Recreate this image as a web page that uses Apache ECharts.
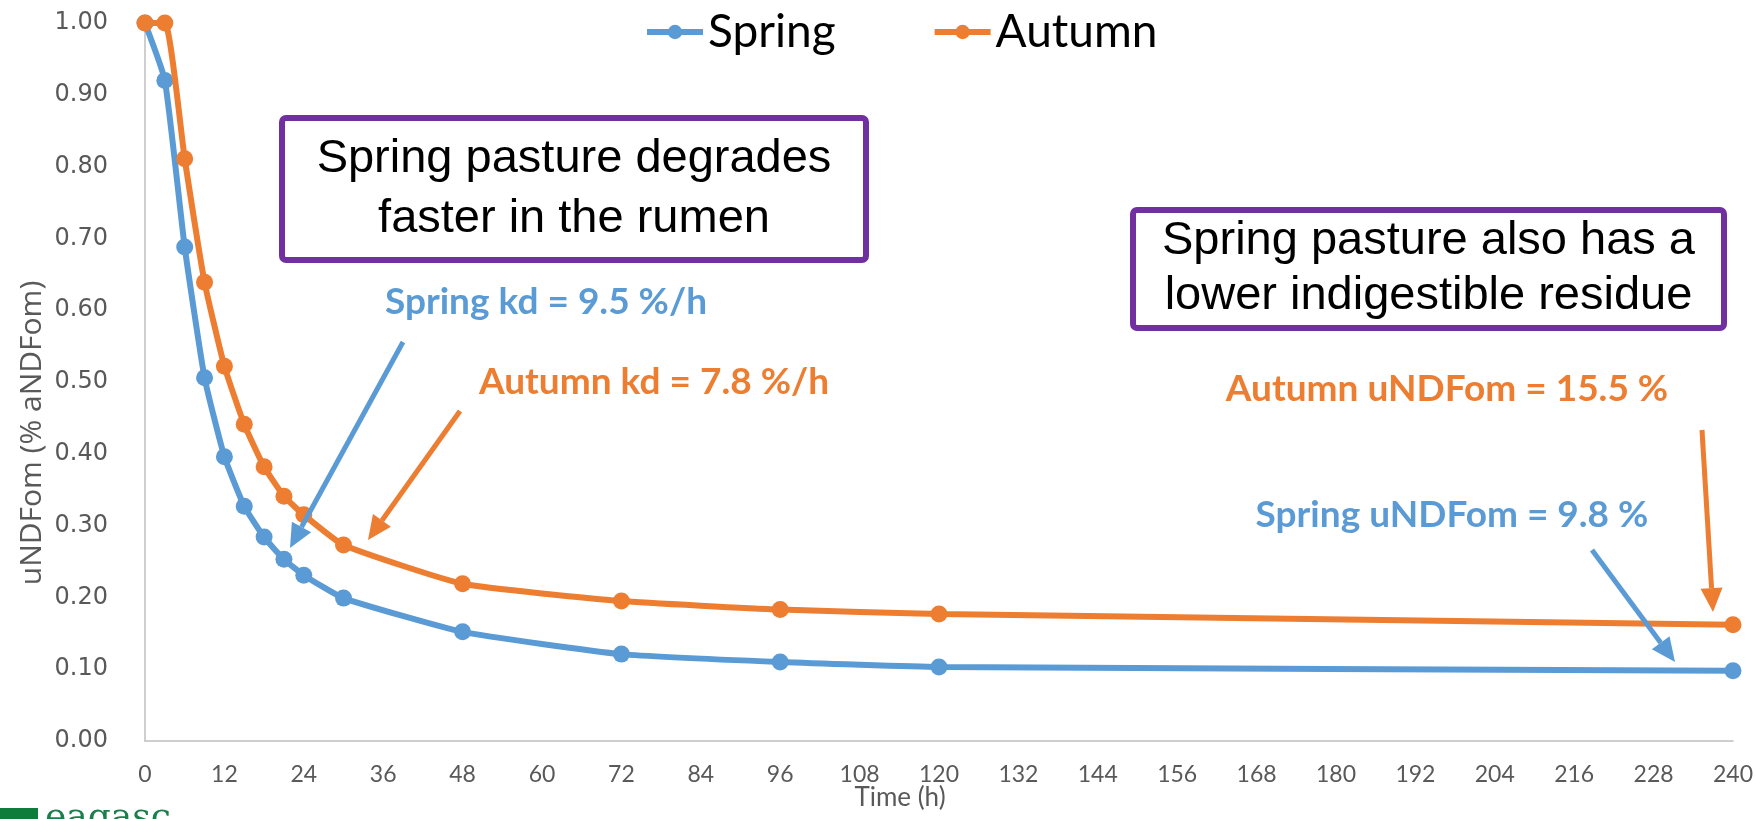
<!DOCTYPE html>
<html>
<head>
<meta charset="utf-8">
<script src="https://cdn.jsdelivr.net/npm/echarts@6/dist/echarts.min.js"></script>
<style>
  html, body { margin: 0; padding: 0; background: #fff; }
  #chart { width: 1756px; height: 819px; }
</style>
</head>
<body>
<div id="chart"></div>
<script>
// incubation times (h)
var hours = [0, 3, 6, 9, 12, 15, 18, 21, 24, 30, 48, 72, 96, 120, 240];
// uNDFom remaining (fraction of aNDFom)
var spring = [1.00, 0.92, 0.688, 0.506, 0.396, 0.327, 0.284, 0.253, 0.231, 0.199, 0.152, 0.121, 0.110, 0.103, 0.098];
var autumn = [1.00, 1.00, 0.811, 0.639, 0.522, 0.441, 0.382, 0.341, 0.315, 0.273, 0.219, 0.195, 0.183, 0.177, 0.162];
var seriesNames = ["Spring", "Autumn"];
var colors = ["#5B9BD5", "#ED7D31"];

function pairs(xs, ys) {
  var out = [];
  for (var i = 0; i < xs.length; i++) {
    out.push([xs[i], ys[i]]);
  }
  return out;
}

// arrow as line + triangular head
function arrow(x1, y1, x2, y2, color) {
  var ang = Math.atan2(y2 - y1, x2 - x1);
  var len = 24, half = 11;
  var bx = x2 - len * Math.cos(ang), by = y2 - len * Math.sin(ang);
  var px = -Math.sin(ang) * half, py = Math.cos(ang) * half;
  return [
    { type: "line", shape: { x1: x1, y1: y1, x2: bx, y2: by }, style: { stroke: color, lineWidth: 5 }, z: 50 },
    { type: "polygon", shape: { points: [[x2, y2], [bx + px, by + py], [bx - px, by - py]] }, style: { fill: color }, z: 50 }
  ];
}

function box(x, y, w, h, lines, lh) {
  return [
    { type: "rect", shape: { x: x, y: y, width: w, height: h, r: 4 },
      style: { fill: "#fff", stroke: "#7030A0", lineWidth: 6 }, z: 40 },
    { type: "text", x: x + w / 2, y: y + h / 2, z: 41,
      style: { text: lines.join("\n"), align: "center", verticalAlign: "middle",
               font: "47px 'Liberation Sans', Arial, sans-serif", lineHeight: lh, fill: "#000" } }
  ];
}

function label(x, y, text, color) {
  return { type: "text", x: x, y: y, z: 45,
    style: { text: text, align: "center", verticalAlign: "middle",
             font: "bold 37px Lato, sans-serif", fill: color } };
}

var chart = echarts.init(document.getElementById("chart"));

var graphics = []
  .concat(box(282, 118, 584, 142, ["Spring pasture degrades", "faster in the rumen"], 60))
  .concat(box(1133, 210, 591, 118, ["Spring pasture also has a", "lower indigestible residue"], 55))
  .concat(arrow(403, 342, 290, 548, colors[0]))
  .concat(arrow(460, 411, 368, 540, colors[1]))
  .concat(arrow(1702, 430, 1713, 612, colors[1]))
  .concat(arrow(1592, 550, 1675, 662, colors[0]));
graphics.push(label(546, 302, "Spring kd = 9.5 %/h", colors[0]));
graphics.push(label(654, 382, "Autumn kd = 7.8 %/h", colors[1]));
graphics.push(label(1447, 389, "Autumn uNDFom = 15.5 %", colors[1]));
graphics.push(label(1452, 515, "Spring uNDFom = 9.8 %", colors[0]));
// y axis title
graphics.push({ type: "text", x: 32, y: 433, rotation: Math.PI / 2,
  style: { text: "uNDFom (% aNDFom)", align: "center", verticalAlign: "middle",
           font: "30px 'Open Sans', sans-serif", fill: "#595959" } });
// x axis title
graphics.push({ type: "text", x: 900, y: 798,
  style: { text: "Time (h)", align: "center", verticalAlign: "middle",
           font: "26px Lato, sans-serif", fill: "#595959" } });
// logo, cut off at bottom edge
graphics.push({ type: "rect", shape: { x: 0, y: 808, width: 38, height: 14 }, style: { fill: "#0E7C3A" } });
graphics.push({ type: "text", x: 45, y: 801, style: { text: "eagasc", font: "36px 'DejaVu Serif', serif",
  fill: "#1A7F4B", verticalAlign: "top" } });

chart.setOption({
  animation: false,
  backgroundColor: "#fff",
  color: colors,
  legend: {
    data: seriesNames,
    left: 639,
    top: 4,
    itemWidth: 56,
    itemHeight: 18,
    itemGap: 96,
    lineStyle: { width: 6 },
    textStyle: { fontFamily: "Lato", fontSize: 46, color: "#000" }
  },
  grid: { left: 145, right: 21, top: 23, bottom: 78 },
  xAxis: {
    type: "value",
    min: 0,
    max: 240,
    interval: 12,
    axisLine: { lineStyle: { color: "#BFBFBF", width: 1.5 } },
    axisTick: { show: false },
    splitLine: { show: false },
    axisLabel: { fontFamily: "Lato", fontSize: 23, color: "#595959", margin: 22 }
  },
  yAxis: {
    type: "value",
    min: 0,
    max: 1,
    interval: 0.1,
    axisLine: { show: true, lineStyle: { color: "#BFBFBF", width: 1.5 } },
    axisTick: { show: false },
    splitLine: { show: false },
    axisLabel: {
      fontFamily: "DejaVu Sans", fontSize: 24, color: "#595959", margin: 37,
      formatter: function (v) { return v.toFixed(2); }
    }
  },
  series: [
    {
      name: seriesNames[0], type: "line", data: pairs(hours, spring),
      smooth: 0.15, symbol: "circle", symbolSize: 17,
      lineStyle: { width: 6, color: colors[0] }, itemStyle: { color: colors[0] }, z: 3
    },
    {
      name: seriesNames[1], type: "line", data: pairs(hours, autumn),
      smooth: 0.15, symbol: "circle", symbolSize: 17,
      lineStyle: { width: 6, color: colors[1] }, itemStyle: { color: colors[1] }, z: 4
    }
  ],
  graphic: graphics
});
</script>
</body>
</html>
